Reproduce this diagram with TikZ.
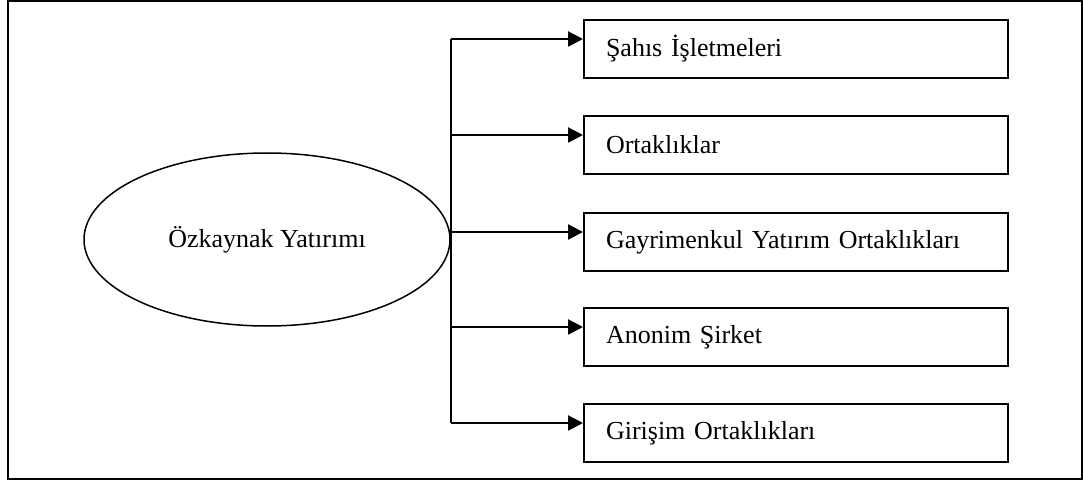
\documentclass[tikz,border=0pt]{standalone}
\usepackage{fontspec}
\setmainfont{Liberation Serif}
\usetikzlibrary{arrows.meta,shapes.geometric}
\begin{document}
\begin{tikzpicture}[x=1pt,y=-1pt,
  every node/.style={font=\fontsize{26}{30}\selectfont},
  kind/.style={draw, line width=2pt, rectangle, anchor=north west,
    minimum width=424pt, minimum height=58pt, text width=380pt,
    inner xsep=22pt, inner ysep=0pt, align=left},
  root/.style={draw, line width=1.5pt, ellipse, minimum width=366pt,
    minimum height=173pt, inner sep=0pt},
  link/.style={line width=2.5pt},
  feed/.style={link, -{Triangle[length=15pt,width=15pt]}}]
  \useasboundingbox (0,0) rectangle (1083,481);
  % outer frame
  \draw[line width=1.5pt] (8,1) rectangle (1082,479);
  % root of the tree
  \node[root] (r) at (267,239.5) {Özkaynak Yatırımı};
  % the five kinds of equity investment
  \node[kind] (b1) at (583,19)  {Şahıs İşletmeleri};
  \node[kind] (b2) at (583,115) {Ortaklıklar};
  \node[kind] (b3) at (583,212) {Gayrimenkul Yatırım Ortaklıkları};
  \node[kind] (b4) at (583,307) {Anonim Şirket};
  \node[kind] (b5) at (583,403) {Girişim Ortaklıkları};
  % branch points on the trunk beside the ellipse
  \foreach \i in {1,...,5}{
    \coordinate (e\i) at ([yshift=-20pt]b\i.north west);
    \coordinate (j\i) at (r.east |- e\i);
  }
  \draw[link] (j1) -- (j5);
  \foreach \i in {1,...,5}{
    \draw[feed] (j\i) -- (e\i);
  }
\end{tikzpicture}
\end{document}
